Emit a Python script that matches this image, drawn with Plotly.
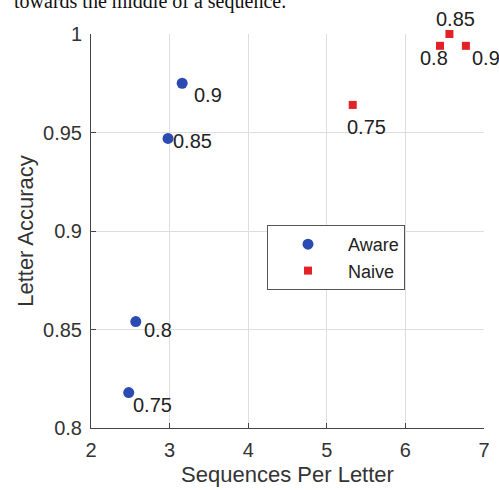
import plotly.graph_objects as go

# ---- data ----
aware_x = [2.48, 2.57, 2.98, 3.16]
aware_y = [0.818, 0.854, 0.947, 0.975]
aware_labels = ["0.75", "0.8", "0.85", "0.9"]

naive_x = [5.33, 6.44, 6.56, 6.77]
naive_y = [0.964, 0.994, 1.0, 0.994]
naive_labels = ["0.75", "0.8", "0.85", "0.9"]

x_ticks = [2, 3, 4, 5, 6, 7]
y_ticks = [0.8, 0.85, 0.9, 0.95, 1.0]
y_ticktext = ["0.8", "0.85", "0.9", "0.95", "1"]

# label pixel offsets (style)
aware_off = [(2, -12), (6, -8), (3, -3), (10, -12)]
naive_off = [(-8, -22), (-22, -12), (-15, 15), (4, -12)]

BLUE = "#2b4bb3"
RED = "#e52128"
FONT = "Liberation Sans, Arial, sans-serif"

fig = go.Figure()
fig.add_trace(go.Scatter(x=aware_x, y=aware_y, mode="markers", name="Aware",
                         marker=dict(symbol="circle", size=11, color=BLUE),
                         cliponaxis=False))
fig.add_trace(go.Scatter(x=naive_x, y=naive_y, mode="markers", name="Naive",
                         marker=dict(symbol="square", size=8, color=RED),
                         cliponaxis=False))

anns = []
for xs, ys, labs, offs in [(aware_x, aware_y, aware_labels, aware_off),
                           (naive_x, naive_y, naive_labels, naive_off)]:
    for x, y, t, (dx, dy) in zip(xs, ys, labs, offs):
        anns.append(dict(x=x, y=y, xref="x", yref="y", text=t, showarrow=False,
                         xanchor="left", yanchor="middle", xshift=dx, yshift=dy,
                         font=dict(family=FONT, size=20, color="#222222")))

# cropped caption from surrounding document
anns.append(dict(xref="paper", yref="paper", x=(12 - 91) / 393, y=1 + (34 - 8) / 394,
                 text="towards the middle of a sequence.", showarrow=False,
                 xanchor="left", yanchor="bottom", yshift=-7,
                 font=dict(family="Liberation Serif, Times New Roman, serif", size=20,
                           color="#111111")))

fig.update_layout(
    width=499, height=490,
    margin=dict(l=91, r=15, t=34, b=62),
    paper_bgcolor="white", plot_bgcolor="white",
    font=dict(family=FONT, size=20, color="#333333"),
    showlegend=True,
    legend=dict(x=(267 - 91) / 393, y=1 - (225 - 34) / 394, xanchor="left", yanchor="top",
                bordercolor="#555555", borderwidth=1, bgcolor="white",
                font=dict(size=18, color="#222222"), itemwidth=70,
                tracegroupgap=0),
    annotations=anns,
)
fig.update_xaxes(range=[2, 7], tickvals=x_ticks, showgrid=True, gridcolor="#dedede",
                 showline=True, linecolor="#444444", linewidth=1, mirror=False,
                 ticks="inside", ticklen=5, tickcolor="#444444", zeroline=False,
                 automargin=False, ticklabelstandoff=4,
                 title=dict(text="Sequences Per Letter", standoff=6, font=dict(size=22)),
                 tickfont=dict(size=20))
fig.update_yaxes(range=[0.8, 1.0], tickvals=y_ticks, ticktext=y_ticktext, showgrid=True,
                 gridcolor="#dedede", showline=True, linecolor="#444444", linewidth=1,
                 ticks="inside", ticklen=5, tickcolor="#444444", zeroline=False,
                 automargin=False, ticklabelstandoff=4,
                 title=dict(text="Letter Accuracy", standoff=3, font=dict(size=22)),
                 tickfont=dict(size=20))

fig.write_html("out.html", config={"displayModeBar": False},
               post_script="document.body.style.margin='0';document.body.style.overflow='hidden';")
